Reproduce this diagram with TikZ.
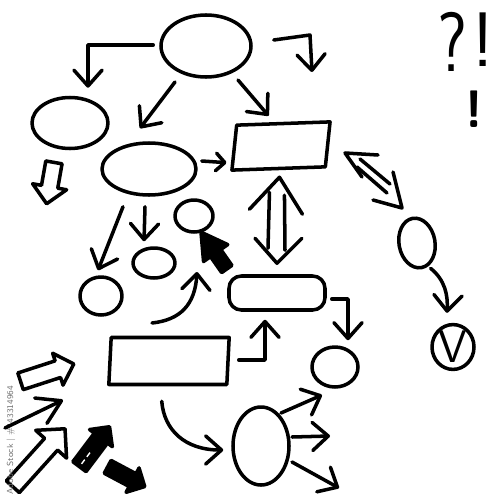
\documentclass[tikz,border=0pt]{standalone}
\usepackage{tikz}
\usetikzlibrary{shapes.geometric, shapes.arrows, arrows.meta}
\tikzstyle{pen} = [line width=2pt, line cap=round, line join=round]
\tikzstyle{oval} = [ellipse, draw=black, pen, inner sep=0pt]
\tikzstyle{box} = [rectangle, draw=black, pen, inner sep=0pt]
\tikzstyle{arrow} = [pen, -{Straight Barb[length=9pt, width=16pt, round]}]
\tikzstyle{smallarrow} = [pen, -{Straight Barb[length=5pt, width=10pt, round]}]
\tikzstyle{bigarrow} = [pen, -{Straight Barb[length=13pt, width=16pt, round]}]
\tikzstyle{openarrow} = [single arrow, draw=black, pen, fill=white, inner xsep=0pt]
\tikzstyle{blackarrow} = [single arrow, draw=black, pen, fill=black, inner xsep=0pt]

\begin{document}
\begin{tikzpicture}[x=0.2mm, y=-0.2mm]
\useasboundingbox (0,0) rectangle (500,500);

%% nodes
\node (topOval) [oval, minimum width=1.8cm, minimum height=1.24cm] at (206,46) {};
\node (leftOval) [oval, minimum width=1.52cm, minimum height=1.02cm] at (70,123) {};
\node (midOval) [oval, minimum width=1.88cm, minimum height=1.04cm] at (149,169) {};
\node (rectTop) [box, minimum width=1.86cm, minimum height=0.9cm, xslant=0.14, rotate=2] at (281,146) {};
\node (circSmall) [oval, minimum width=0.76cm, minimum height=0.64cm] at (194,216) {};
\node (ovalSmall) [oval, minimum width=0.84cm, minimum height=0.6cm] at (154,263) {};
\node (circLeft) [oval, minimum width=0.84cm, minimum height=0.76cm] at (101,296) {};
\node (rectMid) [box, rounded corners=7pt, minimum width=1.92cm, minimum height=0.68cm] at (277,293) {};
\node (rectLow) [box, minimum width=2.36cm, minimum height=0.94cm, xslant=0.05] at (169,361) {};
\node (circRight) [oval, minimum width=0.92cm, minimum height=0.8cm] at (335,367) {};
\node (ovalLow) [oval, minimum width=1.12cm, minimum height=1.56cm] at (261,446) {};
\node (lensOval) [oval, minimum width=0.72cm, minimum height=1.0cm, rotate=10] at (417,243) {};
\node (tickCirc) [oval, minimum width=0.84cm, minimum height=0.76cm,
  font=\sffamily\fontsize{26}{26}\selectfont] at (453,347) {V};

\node (quest) [font=\sffamily\fontsize{48}{48}\selectfont, xscale=0.8, inner sep=0pt] at (452,42) {?};
\node (bang) [font=\sffamily\fontsize{44}{44}\selectfont, inner sep=0pt] at (483,40) {!};
\node (bangLow) [font=\sffamily\bfseries\fontsize{30}{30}\selectfont, inner sep=0pt] at (474,109) {!};

%% block arrows
\node (hollowDown) [openarrow, minimum height=0.84cm, inner ysep=0.13cm,
  single arrow head extend=0.18cm, rotate=-100] at (51,179) {};
\node (hollowRight) [openarrow, minimum height=1.12cm, inner ysep=0.14cm,
  single arrow head extend=0.16cm, rotate=18] at (43,374) {};
\node (hollowUp) [openarrow, minimum height=1.56cm, inner ysep=0.14cm,
  single arrow head extend=0.24cm, rotate=48] at (36,461) {};
\node (blackUp) [blackarrow, minimum height=1.0cm, inner ysep=0.13cm,
  single arrow head extend=0.12cm, rotate=53] at (92,450) {};
\node (blackDown) [blackarrow, minimum height=0.84cm, inner ysep=0.11cm,
  single arrow head extend=0.13cm, rotate=-28] at (123,475) {};
\node (cursor) [blackarrow, minimum height=0.9cm, inner ysep=0.09cm,
  single arrow head extend=0.17cm, single arrow tip angle=60, rotate=125] at (217,255) {};

\node (stockId) [rotate=90, text=black!55, inner sep=0pt,
  font=\sffamily\fontsize{5}{5}\selectfont] at (11,440) {Adobe Stock | \#143314964};

%% loose ends
\coordinate (topRightEnd) at (312,72);
\coordinate (curlStart) at (152,323);
\coordinate (curlTip) at (197,272);
\coordinate (fanTipA) at (322,395);
\coordinate (fanTipB) at (330,436);
\coordinate (fanTipC) at (339,488);
\coordinate (lineTail) at (5,428);
\coordinate (lineTip) at (63,400);
\coordinate (dblTop) at ([shift={(1,7)}]rectTop.south);
\coordinate (dblBot) at ([shift={(0,-11)}]rectMid.north);
\coordinate (diagTop) at (345,153);
\coordinate (diagBot) at (402,208);

%% paths
\draw [arrow] ([shift={(-6,-1)}]topOval.west) -| ([shift={(18,-8)}]leftOval.north);
\draw [arrow] ([shift={(21,-6)}]topOval.east) -- (310,35) -- (topRightEnd);
\draw [arrow] ([shift={(-31,36)}]topOval.center) -- ([shift={(-9,-13)}]midOval.north);
\draw [arrow] ([shift={(32,34)}]topOval.center) -- ([shift={(-15,-6)}]rectTop.north);
\draw [smallarrow] ([shift={(4,-8)}]midOval.east) -- ([shift={(-6,15)}]rectTop.west);
\draw [arrow] ([shift={(-4,10)}]midOval.south) -- ([shift={(-10,-5)}]ovalSmall.north);
\draw [arrow] ([shift={(-26,10)}]midOval.south) -- ([shift={(-3,-5)}]circLeft.north);
\draw [arrow] (curlStart) .. controls (180,320) and (195,305) .. (curlTip);
\draw [arrow] ([shift={(5,6)}]rectMid.east) -| ([shift={(13,-5)}]circRight.north);
\draw [arrow] ([shift={(9,-1)}]rectLow.east) -| ([shift={(-12,8)}]rectMid.south);
\draw [arrow] ([shift={(-6,15)}]rectLow.south) .. controls (164,430) and (185,450) .. ([shift={(-8,4)}]ovalLow.west);
\draw [arrow] ([shift={(20,-33)}]ovalLow.center) -- (fanTipA);
\draw [arrow] ([shift={(31,-9)}]ovalLow.center) -- (fanTipB);
\draw [arrow] ([shift={(31,16)}]ovalLow.center) -- (fanTipC);
\draw [arrow] ([shift={(9,-1)}]lensOval.south) .. controls (445,280) and (448,295) .. ([shift={(-6,-10)}]tickCirc.north);
\draw [bigarrow] (lineTail) -- (lineTip);
\draw [white, densely dashed, line width=0.8pt, shorten <=3pt] (blackUp.tail) -- (blackUp.center);

% up and down between the boxes
\draw [pen] ([shift={(-30,32)}]dblTop) -- (dblTop) -- ([shift={(23,37)}]dblTop);
\draw [pen] ([shift={(-10,15)}]dblTop) -- ([shift={(-9,-15)}]dblBot);
\draw [pen] ([shift={(5,18)}]dblTop) -- ([shift={(8,-13)}]dblBot);
\draw [pen] ([shift={(-22,-25)}]dblBot) -- (dblBot) -- ([shift={(25,-25)}]dblBot);

% diagonal two-way arrow
\draw [pen] ([shift={(33,2)}]diagTop) -- (diagTop) -- ([shift={(17,24)}]diagTop);
\draw [pen] ([shift={(15,6)}]diagTop) -- ([shift={(45,31)}]diagTop);
\draw [pen] ([shift={(12,14)}]diagTop) -- ([shift={(42,40)}]diagTop);
\draw [pen] ([shift={(-9,-36)}]diagBot) -- (diagBot) -- ([shift={(-29,-8)}]diagBot);

\end{tikzpicture}
\end{document}
